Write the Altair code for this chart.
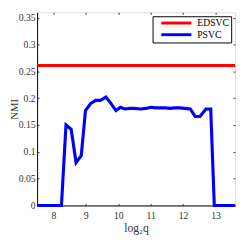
import altair as alt
import pandas as pd

x_psvc = [7.5, 8.25, 8.39, 8.55, 8.7, 8.86, 8.99, 9.15, 9.3, 9.45, 9.62, 9.78, 9.93, 10.07, 10.2, 10.35, 10.5, 10.7, 10.85, 11.0, 11.15, 11.3, 11.45, 11.6, 11.75, 11.9, 12.05, 12.22, 12.37, 12.52, 12.7, 12.85, 12.96, 13.6]
y_psvc = [0, 0, 0.15, 0.142, 0.08, 0.093, 0.177, 0.19, 0.196, 0.196, 0.202, 0.19, 0.177, 0.183, 0.18, 0.181, 0.181, 0.18, 0.181, 0.183, 0.182, 0.182, 0.182, 0.181, 0.182, 0.182, 0.181, 0.18, 0.166, 0.166, 0.18, 0.18, 0, 0]
x_edsvc = [7.5, 13.6]
y_edsvc = [0.261, 0.261]
series = ["EDSVC", "PSVC"]
colors = ["#ff0000", "#0000ff"]
x_ticks = [8, 9, 10, 11, 12, 13]
y_ticks = [0, 0.05, 0.1, 0.15, 0.2, 0.25, 0.3, 0.35]

df = pd.concat([
    pd.DataFrame({"x": x_edsvc, "y": y_edsvc, "s": "EDSVC", "o": range(len(x_edsvc))}),
    pd.DataFrame({"x": x_psvc, "y": y_psvc, "s": "PSVC", "o": range(len(x_psvc))}),
])

W, H = 204, 199
font = "Times New Roman, Liberation Serif, serif"
grey = "#333333"
xs = alt.Scale(domain=[7.5, 13.6], nice=False, zero=False)
ys = alt.Scale(domain=[0, 0.36], nice=False)


def tick_axis(vals, orient, offset):
    return alt.Axis(values=vals, orient=orient, offset=offset, labels=False, title=None,
                    domain=False, grid=False, tickSize=2, tickColor=grey, tickWidth=1)


main = alt.Chart(df).mark_line(strokeWidth=3.2).encode(
    x=alt.X("x:Q", scale=xs,
            axis=alt.Axis(values=x_ticks, title="log₂q", tickSize=0, labelPadding=5,
                          grid=False, domainColor="black", labelColor=grey,
                          titleColor=grey, labelFontSize=10, titleFontSize=12,
                          titleFontWeight="normal", titlePadding=3, format="~g")),
    y=alt.Y("y:Q", scale=ys,
            axis=alt.Axis(values=y_ticks, title="NMI", tickSize=0, labelPadding=2,
                          grid=False, domainColor="black", labelColor=grey,
                          titleColor=grey, labelFontSize=10, titleFontSize=11,
                          titleFontWeight="normal", titleX=-20.5, titleY=H / 2,
                          titleBaseline="alphabetic", labelFlush=False, format="~g")),
    color=alt.Color("s:N", scale=alt.Scale(domain=series, range=colors),
                    legend=alt.Legend(title=None, orient="none", legendX=119, legendY=4,
                                      symbolType="M1,0H16.5", symbolSize=16, symbolStrokeWidth=3,
                                      labelOffset=34, labelFontSize=10,
                                      labelColor="black", strokeColor="black", fillColor="white",
                                      padding=2, rowPadding=0, symbolOffset=0)),
    order="o:Q",
)

ticks_a = alt.Chart(df).mark_line(strokeOpacity=0).encode(
    x=alt.X("x:Q", scale=xs, axis=tick_axis(x_ticks, "top", -H)),
    y=alt.Y("y:Q", scale=ys, axis=tick_axis(y_ticks, "right", -W)),
)
ticks_b = alt.Chart(df).mark_line(strokeOpacity=0).encode(
    x=alt.X("x:Q", scale=xs, axis=tick_axis(x_ticks, "bottom", -H)),
    y=alt.Y("y:Q", scale=ys, axis=tick_axis(y_ticks, "left", -W)),
)

chart = alt.layer(main, ticks_a, ticks_b).resolve_axis(
    x="independent", y="independent"
).properties(
    width=W, height=H,
    autosize=alt.AutoSizeParams(type="none"),
    padding={"left": 30, "top": 1, "right": 2, "bottom": 30},
).configure_view(stroke="black", strokeWidth=1).configure(background="white", font=font)

chart.save("out.html", embed_options={"renderer": "svg", "actions": False})
